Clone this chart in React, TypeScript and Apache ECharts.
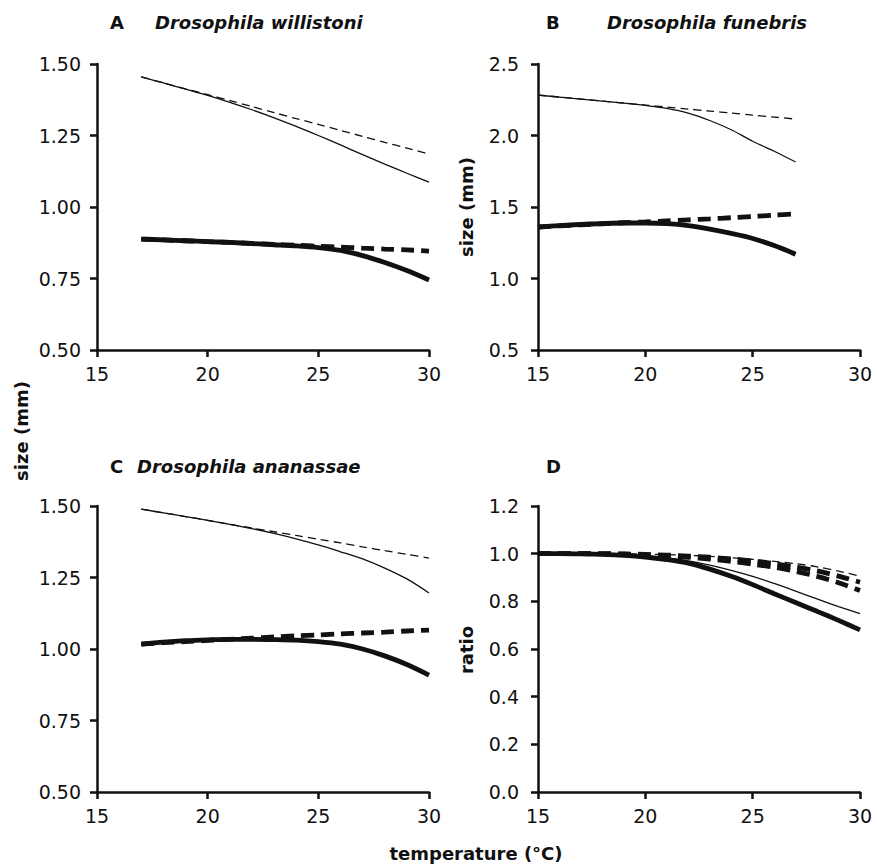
import React, { useEffect, useRef } from "react";
import * as echarts from "echarts";

// Temperatures (°C) at which the curves are sampled
const tempAC = [17, 18, 19, 20, 21, 22, 23, 24, 25, 26, 27, 28, 29, 30];
const tempB = [15, 16, 17, 18, 19, 20, 21, 22, 23, 24, 25, 26, 27];
const tempD = [15, 16, 17, 18, 19, 20, 21, 22, 23, 24, 25, 26, 27, 28, 29, 30];

// A  Drosophila willistoni (size, mm)
const aThinSolid = [1.455, 1.434, 1.412, 1.39, 1.366, 1.34, 1.312, 1.282, 1.25, 1.217, 1.183, 1.15, 1.118, 1.087];
const aThinDashed = [1.455, 1.434, 1.413, 1.393, 1.372, 1.351, 1.33, 1.309, 1.289, 1.268, 1.247, 1.226, 1.206, 1.185];
const aThickSolid = [0.888, 0.885, 0.882, 0.879, 0.876, 0.872, 0.868, 0.864, 0.858, 0.848, 0.83, 0.806, 0.778, 0.745];
const aThickDashed = [0.888, 0.885, 0.882, 0.879, 0.876, 0.873, 0.869, 0.866, 0.863, 0.86, 0.856, 0.853, 0.85, 0.846];

// B  Drosophila funebris (size, mm)
const bThinSolid = [2.283, 2.268, 2.254, 2.24, 2.226, 2.21, 2.19, 2.157, 2.105, 2.04, 1.96, 1.89, 1.815];
const bThinDashed = [2.283, 2.269, 2.255, 2.241, 2.227, 2.213, 2.199, 2.185, 2.171, 2.157, 2.143, 2.129, 2.115];
const bThickSolid = [1.36, 1.37, 1.378, 1.384, 1.388, 1.388, 1.384, 1.37, 1.345, 1.315, 1.28, 1.23, 1.17];
const bThickDashed = [1.36, 1.368, 1.376, 1.383, 1.39, 1.396, 1.403, 1.41, 1.417, 1.425, 1.434, 1.443, 1.452];

// C  Drosophila ananassae (size, mm)
const cThinSolid = [1.489, 1.476, 1.463, 1.45, 1.436, 1.421, 1.404, 1.385, 1.364, 1.34, 1.315, 1.283, 1.245, 1.196];
const cThinDashed = [1.489, 1.476, 1.463, 1.45, 1.436, 1.423, 1.41, 1.397, 1.384, 1.371, 1.357, 1.344, 1.331, 1.318];
const cThickSolid = [1.017, 1.024, 1.029, 1.032, 1.034, 1.034, 1.033, 1.031, 1.026, 1.017, 1.0, 0.976, 0.946, 0.909];
const cThickDashed = [1.017, 1.022, 1.026, 1.03, 1.034, 1.038, 1.042, 1.046, 1.049, 1.053, 1.056, 1.059, 1.063, 1.066];

// D  ratios
const dThickSolid = [1.0, 1.0, 0.999, 0.997, 0.993, 0.986, 0.975, 0.96, 0.935, 0.905, 0.87, 0.832, 0.795, 0.758, 0.72, 0.68];
const dThinSolid = [1.0, 1.0, 0.999, 0.997, 0.995, 0.99, 0.982, 0.97, 0.952, 0.93, 0.905, 0.875, 0.843, 0.81, 0.778, 0.748];
const dDashed1 = [1.0, 1.0, 1.0, 1.0, 0.999, 0.998, 0.996, 0.993, 0.989, 0.983, 0.976, 0.968, 0.958, 0.945, 0.927, 0.905];
const dDashed2 = [1.0, 1.0, 1.0, 1.0, 0.999, 0.997, 0.994, 0.99, 0.985, 0.978, 0.969, 0.958, 0.944, 0.928, 0.906, 0.88];
const dDashed3 = [1.0, 1.0, 1.0, 0.999, 0.998, 0.995, 0.991, 0.985, 0.977, 0.968, 0.956, 0.943, 0.926, 0.905, 0.878, 0.845];

// Axis ticks
const xTicks = { min: 15, max: 30, interval: 5 };
const yTicksAC = { min: 0.5, max: 1.5, interval: 0.25 };
const yTicksB = { min: 0.5, max: 2.5, interval: 0.5 };
const yTicksD = { min: 0, max: 1.2, interval: 0.2 };

const INK = "#111";
const FONT = "'DejaVu Sans', sans-serif";

const zip = (xs: number[], ys: number[]) => xs.map((x, i) => [x, ys[i]]);

type Style = "thin" | "thinDash" | "thick" | "thickDash";

function line(idx: number, xs: number[], ys: number[], style: Style) {
  const thick = style === "thick" || style === "thickDash";
  const dashed = style === "thinDash" || style === "thickDash";
  return {
    type: "line",
    xAxisIndex: idx,
    yAxisIndex: idx,
    data: zip(xs, ys),
    showSymbol: false,
    symbol: "none",
    smooth: 0.3,
    lineStyle: {
      color: INK,
      width: thick ? 4.8 : 1.3,
      type: dashed ? (thick ? [13, 7] : [8, 5]) : "solid",
      cap: "butt",
    },
    z: thick ? 3 : 2,
  };
}

function xAxis(idx: number) {
  return {
    type: "value",
    gridIndex: idx,
    ...xTicks,
    axisLine: { show: true, lineStyle: { color: INK, width: 2.5 } },
    axisTick: { show: true, length: 7, lineStyle: { color: INK, width: 2.5 } },
    splitLine: { show: false },
    axisLabel: { color: INK, fontSize: 19, fontFamily: FONT, margin: 14 },
  };
}

function yAxis(
  idx: number,
  ticks: { min: number; max: number; interval: number },
  digits: number,
  margin: number
) {
  return {
    type: "value",
    gridIndex: idx,
    ...ticks,
    axisLine: { show: true, lineStyle: { color: INK, width: 2.5 } },
    axisTick: { show: true, length: 7, lineStyle: { color: INK, width: 2.5 } },
    splitLine: { show: false },
    axisLabel: {
      color: INK,
      fontSize: 19,
      fontFamily: FONT,
      margin,
      formatter: (v: number) => v.toFixed(digits),
    },
  };
}

function txt(x: number, y: number, text: string, opts: any = {}) {
  return {
    type: "text",
    x,
    y,
    rotation: opts.rotation || 0,
    style: {
      text,
      fill: INK,
      font: `${opts.italic ? "italic " : ""}bold ${opts.size || 18}px ${FONT}`,
      align: opts.align || "left",
      verticalAlign: "middle",
    },
  };
}

export default function App() {
  const ref = useRef<HTMLDivElement>(null);

  useEffect(() => {
    if (!ref.current) return;
    const chart = echarts.init(ref.current, null, { renderer: "svg" });
    chart.setOption({
      animation: false,
      backgroundColor: "#fff",
      grid: [
        { left: 97, top: 64, width: 332, height: 286 },
        { left: 538, top: 64, width: 322, height: 286 },
        { left: 97, top: 506, width: 332, height: 286 },
        { left: 538, top: 506, width: 322, height: 286 },
      ],
      xAxis: [xAxis(0), xAxis(1), xAxis(2), xAxis(3)],
      yAxis: [
        yAxis(0, yTicksAC, 2, 16),
        yAxis(1, yTicksB, 1, 19),
        yAxis(2, yTicksAC, 2, 16),
        yAxis(3, yTicksD, 1, 19),
      ],
      series: [
        line(0, tempAC, aThinDashed, "thinDash"),
        line(0, tempAC, aThinSolid, "thin"),
        line(0, tempAC, aThickDashed, "thickDash"),
        line(0, tempAC, aThickSolid, "thick"),

        line(1, tempB, bThinDashed, "thinDash"),
        line(1, tempB, bThinSolid, "thin"),
        line(1, tempB, bThickDashed, "thickDash"),
        line(1, tempB, bThickSolid, "thick"),

        line(2, tempAC, cThinDashed, "thinDash"),
        line(2, tempAC, cThinSolid, "thin"),
        line(2, tempAC, cThickDashed, "thickDash"),
        line(2, tempAC, cThickSolid, "thick"),

        line(3, tempD, dDashed1, "thinDash"),
        line(3, tempD, dDashed2, "thickDash"),
        line(3, tempD, dDashed3, "thickDash"),
        line(3, tempD, dThinSolid, "thin"),
        line(3, tempD, dThickSolid, "thick"),
      ],
      graphic: [
        txt(110, 22, "A"),
        txt(155, 22, "Drosophila willistoni", { italic: true }),
        txt(546, 22, "B"),
        txt(607, 22, "Drosophila funebris", { italic: true }),
        txt(110, 466, "C"),
        txt(137, 466, "Drosophila ananassae", { italic: true }),
        txt(546, 466, "D"),
        txt(21, 431, "size (mm)", { rotation: Math.PI / 2, align: "center" }),
        txt(466, 207, "size (mm)", { rotation: Math.PI / 2, align: "center" }),
        txt(466, 650, "ratio", { rotation: Math.PI / 2, align: "center" }),
        txt(476, 853, "temperature (°C)", { align: "center" }),
      ],
    });
    return () => chart.dispose();
  }, []);

  return (
    <div
      ref={ref}
      style={{ position: "absolute", left: 0, top: 0, width: 877, height: 867, background: "#fff" }}
    />
  );
}
